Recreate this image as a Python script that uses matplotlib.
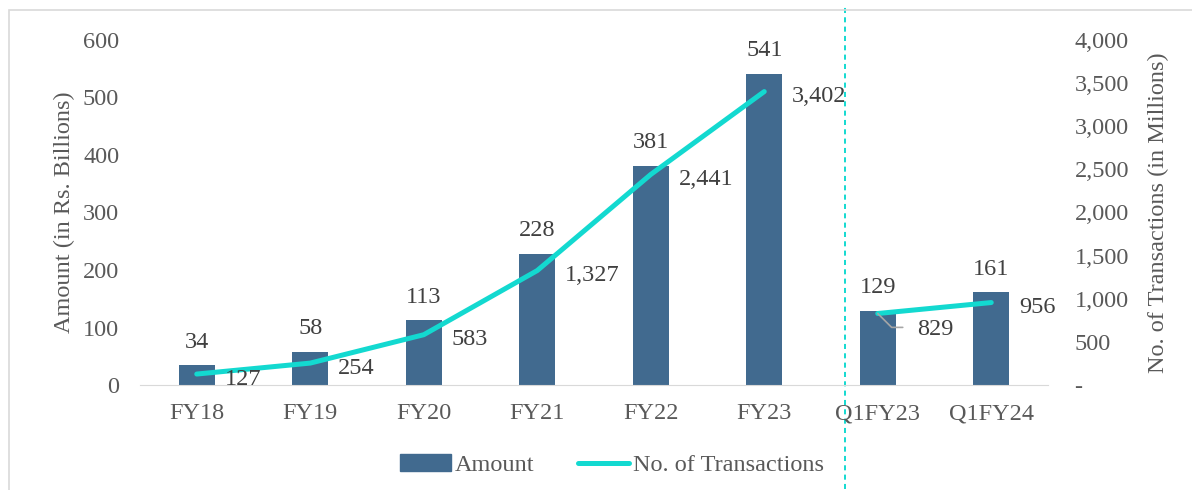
import matplotlib
matplotlib.use("Agg")
import matplotlib.pyplot as plt
from matplotlib.patches import Rectangle
from matplotlib.lines import Line2D
from matplotlib.ticker import FuncFormatter

categories = ["FY18", "FY19", "FY20", "FY21", "FY22", "FY23", "Q1FY23", "Q1FY24"]
amount = [34, 58, 113, 228, 381, 541, 129, 161]
transactions = [127, 254, 583, 1327, 2441, 3402, 829, 956]
annual_count = 6  # first six are full years, last two are quarters

BAR_COLOR = "#416A8F"
LINE_COLOR = "#13D9D0"
TEXT_COLOR = "#404040"
TICK_COLOR = "#595959"
FS = 17.5

plt.rcParams["font.family"] = ["Liberation Serif", "DejaVu Serif"]

fig = plt.figure(figsize=(11.92, 4.9), dpi=100)
ax = fig.add_axes([140/1192, 1-385/490, 908/1192, 345/490])
ax2 = ax.twinx()

x = list(range(len(categories)))
ax.bar(x, amount, width=0.32, color=BAR_COLOR, zorder=2)
ax.set_xlim(-0.5, len(categories) - 0.5)
ax.set_ylim(0, 600)
ax.set_yticks(range(0, 601, 100))
ax.set_xticks(x)
ax.set_xticklabels(categories)

ax2.set_ylim(0, 4000)
ax2.set_yticks(range(0, 4001, 500))
ax2.yaxis.set_major_formatter(FuncFormatter(lambda v, p: "-" if v == 0 else f"{int(v):,}"))

ax2.plot(x[:annual_count], transactions[:annual_count], color=LINE_COLOR, lw=3.6,
         solid_capstyle="round", zorder=3)
ax2.plot(x[annual_count:], transactions[annual_count:], color=LINE_COLOR, lw=3.6,
         solid_capstyle="round", zorder=3)

for a in (ax, ax2):
    for s in a.spines.values():
        s.set_visible(False)
    a.tick_params(length=0, labelsize=FS, colors=TICK_COLOR)
ax.spines["bottom"].set_visible(True)
ax.spines["bottom"].set_color("#D9D9D9")
ax.tick_params(axis="x", pad=13)
ax.tick_params(axis="y", pad=15)
ax2.tick_params(axis="y", pad=19)
for lbl in ax2.get_yticklabels():
    lbl.set_horizontalalignment("left")

ax.set_ylabel("Amount (in Rs. Billions)", fontsize=FS, color=TICK_COLOR, labelpad=6)
ax2.set_ylabel("No. of Transactions (in Millions)", fontsize=FS, color=TICK_COLOR, labelpad=14)

# bar labels
for xi, v in zip(x, amount):
    ax.annotate(f"{v}", (xi, v), xytext=(0, 9), textcoords="offset points",
                ha="center", va="bottom", fontsize=FS, color=TEXT_COLOR)

# line labels (placed to the right of each point)
for i, (xi, v) in enumerate(zip(x, transactions)):
    if i == 6:
        dx, dy = 28, -10
    else:
        dx, dy = 20, -2
    ax2.annotate(f"{v:,}", (xi, v), xytext=(dx, dy), textcoords="offset points",
                 ha="left", va="center_baseline", fontsize=FS, color=TEXT_COLOR, zorder=4)

# leader line for Q1FY23 label
xi, v = x[6], transactions[6]
ax2.annotate("", (xi, v), xytext=(18, -10), textcoords="offset points",
             arrowprops=dict(arrowstyle="-", color="#A6A6A6", lw=1.2, shrinkA=0, shrinkB=0,
                             connectionstyle="angle,angleA=0,angleB=-45,rad=0"))

# dashed divider between annual and quarterly data
div_x = 5.71
ax.axvline(div_x, ymin=-0.3, ymax=1.1, color=LINE_COLOR, ls=(0, (2.6, 2.2)), lw=1.4,
           clip_on=False, zorder=1)

# legend
handles = [Rectangle((0, 0), 1, 1, color=BAR_COLOR),
           Line2D([0], [0], color=LINE_COLOR, lw=3.6, solid_capstyle="round")]
leg = fig.legend(handles, ["Amount", "No. of Transactions"], loc="center",
                 bbox_to_anchor=(612/1192, 1-465/490), ncol=2, frameon=False,
                 fontsize=FS, handlelength=2.1, handletextpad=0.15, columnspacing=1.8,
                 labelcolor=TICK_COLOR)

# outer border
fig.patches.append(Rectangle((9/1192, -0.1), 1.2, 1-10/490 + 0.1, transform=fig.transFigure,
                             fill=False, edgecolor="#D9D9D9", lw=1.2, zorder=0))

fig.savefig("out.png", dpi=100)
